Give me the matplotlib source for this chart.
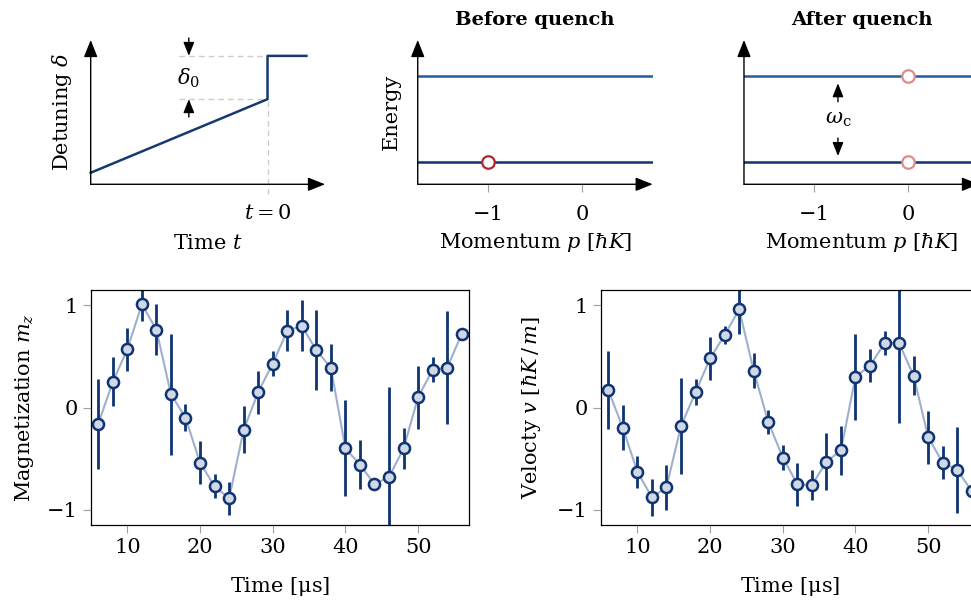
import matplotlib
matplotlib.use("Agg")
import matplotlib.pyplot as plt
import numpy as np

plt.rcParams["font.family"] = "serif"
plt.rcParams["font.serif"] = ["DejaVu Serif"]
plt.rcParams["mathtext.fontset"] = "dejavuserif"
plt.rcParams["font.size"] = 15

NAVY = "#0f3471"
BAND = "#245a9e"
FACE = "#cfd8e4"
LINK = "#9fb0cc"
GRAY = "#a0a0a0"

# schematic: detuning ramp and quench
ramp_t = [-1.0, 0.0, 0.0, 0.22]
ramp_delta = [0.08, 0.59, 0.89, 0.89]

# schematic: band energies vs momentum
momentum = [-1.75, 0.75]
upper_band = [0.75, 0.75]
lower_band = [0.152, 0.152]
before_p = [-1]
after_p = [0, 0]

# measured data
time_us = [6, 8, 10, 12, 14, 16, 18, 20, 22, 24, 26, 28, 30,
           32, 34, 36, 38, 40, 42, 44, 46, 48, 50, 52, 54, 56]
mag = [-0.16, 0.25, 0.57, 1.01, 0.76, 0.13, -0.10, -0.54, -0.77, -0.89,
       -0.22, 0.15, 0.43, 0.75, 0.80, 0.56, 0.39, -0.40, -0.56, -0.75,
       -0.68, -0.40, 0.10, 0.37, 0.39, 0.72]
mag_err = [0.44, 0.24, 0.21, 0.16, 0.25, 0.59, 0.13, 0.21, 0.12, 0.16,
           0.23, 0.21, 0.12, 0.20, 0.25, 0.39, 0.23, 0.47, 0.24, 0.04,
           0.88, 0.20, 0.31, 0.12, 0.55, 0.03]
vel = [0.17, -0.20, -0.63, -0.88, -0.78, -0.18, 0.15, 0.48, 0.71, 0.96,
       0.36, -0.14, -0.49, -0.75, -0.76, -0.53, -0.42, 0.30, 0.41, 0.63,
       0.63, 0.31, -0.29, -0.54, -0.61, -0.82]
vel_err = [0.38, 0.22, 0.16, 0.18, 0.22, 0.47, 0.13, 0.21, 0.09, 0.24,
           0.17, 0.12, 0.12, 0.21, 0.15, 0.28, 0.24, 0.42, 0.16, 0.12,
           0.78, 0.19, 0.26, 0.16, 0.42, 0.10]

fig = plt.figure(figsize=(9.71, 6.08), dpi=100)


def arrow_axes(ax):
    for s in ax.spines.values():
        s.set_visible(False)
    kw = dict(arrowstyle="-|>,head_length=0.7,head_width=0.28", color="black",
              lw=1.0, shrinkA=0, shrinkB=0)
    ax.annotate("", xy=(1, 0), xytext=(0, 0), xycoords="axes fraction",
                arrowprops=kw, annotation_clip=False)
    ax.annotate("", xy=(0, 1), xytext=(0, 0), xycoords="axes fraction",
                arrowprops=kw, annotation_clip=False)
    ax.set_yticks([])


def small_arrow(ax, x, y0, y1):
    ax.annotate("", xy=(x, y1), xytext=(x, y0),
                arrowprops=dict(arrowstyle="-|>,head_length=0.55,head_width=0.22",
                                color="black", lw=1.0, shrinkA=0, shrinkB=0))


# top left
ax1 = fig.add_axes([0.0934, 0.6969, 0.2413, 0.2373])
ax1.set_xlim(-1, 0.325)
ax1.set_ylim(0, 1)
arrow_axes(ax1)
ax1.plot([0, 0], [-0.07, ramp_delta[1]], ls=(0, (4, 3)), color="#cccccc",
         lw=1, clip_on=False)
for yv in ramp_delta[1:3]:
    ax1.plot([-0.5, 0], [yv, yv], ls=(0, (4, 3)), color="#cccccc", lw=1)
ax1.plot(ramp_t, ramp_delta, color="#16396f", lw=1.8, clip_on=False)
small_arrow(ax1, -0.445, 1.014, ramp_delta[2])
small_arrow(ax1, -0.445, 0.466, ramp_delta[1])
ax1.text(-0.445, 0.737, r"$\delta_0$", ha="center", va="center")
ax1.set_xticks([0])
ax1.set_xticklabels([r"$t = 0$"])
ax1.tick_params(axis="x", length=0, pad=14)
ax1.set_xlabel(r"Time $t$", labelpad=8)
ax1.set_ylabel(r"Detuning $\delta$", labelpad=12)


def band_panel(ax, title):
    ax.set_xlim(momentum)
    ax.set_ylim(0, 1)
    arrow_axes(ax)
    ax.plot(momentum, upper_band, color=BAND, lw=1.8)
    ax.plot(momentum, lower_band, color=NAVY, lw=1.8)
    ax.set_xticks([-1, 0])
    ax.set_xticklabels(["\u22121", "0"])
    ax.tick_params(axis="x", direction="out", length=6, color=GRAY, pad=9)
    ax.set_xlabel(r"Momentum $p$ [$\hbar K$]", labelpad=5)
    ax.set_title(title, fontweight="bold", fontsize=14, pad=11)


ax2 = fig.add_axes([0.4302, 0.6969, 0.2420, 0.2373])
band_panel(ax2, "Before quench")
ax2.plot(before_p, [lower_band[0]], "o", ms=9, mfc="white", mec="#b5252d", mew=1.6)
ax2.set_ylabel("Energy", labelpad=12)

ax3 = fig.add_axes([0.7662, 0.6969, 0.2420, 0.2373])
band_panel(ax3, "After quench")
ax3.plot(after_p, [upper_band[0], lower_band[0]], "o", ms=9, mfc="white",
         mec="#e08a8a", mew=1.6)
small_arrow(ax3, -0.75, 0.572, 0.70)
small_arrow(ax3, -0.75, 0.321, 0.196)
ax3.text(-0.75, 0.446, r"$\omega_{\rm c}$", ha="center", va="center")


def data_panel(ax, y, yerr, ylabel, pad):
    ax.plot(time_us, y, color=LINK, lw=1.5, zorder=1)
    ax.errorbar(time_us, y, yerr=yerr, fmt="o", ms=8, mfc=FACE, mec=NAVY,
                mew=1.8, ecolor=NAVY, elinewidth=2, capsize=0, zorder=2)
    ax.set_xlim(5, 57)
    ax.set_ylim(-1.15, 1.15)
    ax.set_xticks([10, 20, 30, 40, 50])
    ax.set_yticks([-1, 0, 1])
    ax.set_yticklabels(["\u22121", "0", "1"])
    ax.tick_params(direction="out", length=6, color=GRAY, width=0.8)
    for s in ax.spines.values():
        s.set_linewidth(0.9)
    ax.set_xlabel(r"Time [$\mathrm{\mu}$s]", labelpad=13)
    ax.set_ylabel(ylabel, labelpad=pad)


ax4 = fig.add_axes([0.0937, 0.1365, 0.3893, 0.3865])
data_panel(ax4, mag, mag_err, r"Magnetization $m_z$", 8)

ax5 = fig.add_axes([0.6190, 0.1365, 0.3893, 0.3865])
data_panel(ax5, vel, vel_err, r"Velocty $v$ [$\hbar K\,/\,m$]", 10)

fig.savefig("out.png", dpi=100)
